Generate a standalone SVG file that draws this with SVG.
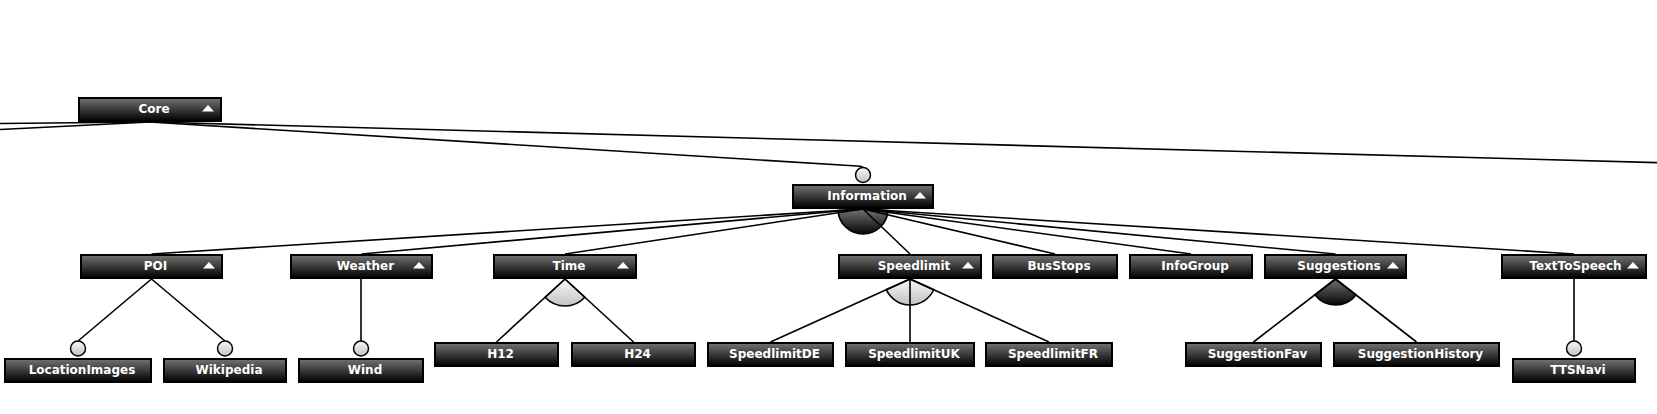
<svg xmlns="http://www.w3.org/2000/svg" width="1657" height="414" viewBox="0 0 1657 414">
<defs>
<linearGradient id="gBox" x1="0" y1="0" x2="0" y2="1">
<stop offset="0" stop-color="#737373"/>
<stop offset="1" stop-color="#000000"/>
</linearGradient>
<linearGradient id="gLight" x1="0" y1="0" x2="0" y2="1">
<stop offset="0" stop-color="#f8f8f8"/>
<stop offset="1" stop-color="#c2c2c2"/>
</linearGradient>
<linearGradient id="gDark" x1="0" y1="0" x2="0" y2="1">
<stop offset="0" stop-color="#737373"/>
<stop offset="1" stop-color="#050505"/>
</linearGradient>
</defs>
<style>
.box{fill:url(#gBox);stroke:#000;stroke-width:2}
.lbl{fill:#fff;font-family:"DejaVu Sans",sans-serif;font-weight:bold;font-size:12px;text-anchor:middle}
.tri{fill:#fff}
.ln{fill:none;stroke:#000;stroke-width:1.6}
.alt{fill:url(#gLight);stroke:#000;stroke-width:1.6}
.or{fill:url(#gDark);stroke:#000;stroke-width:1.6}
.opt{fill:url(#gLight);stroke:#000;stroke-width:1.5}
</style>
<rect width="1657" height="414" fill="#fff"/>
<g id="groups">
<path class="or" d="M863,209 L838.05,210.58 A25,25 0 0 0 887.95,210.58 Z"/>
<path class="alt" d="M565,279 L545.13,297.28 A27,27 0 0 0 584.87,297.28 Z"/>
<path class="alt" d="M910,279 L886.3,289.7 A26,26 0 0 0 933.68,289.73 Z"/>
<path class="or" d="M1335.5,279 L1314.88,294.84 A26,26 0 0 0 1356.02,294.96 Z"/>
</g>
<g id="connectors">
<path class="ln" d="M150,122 L0,123.5"/>
<path class="ln" d="M150,122 L0,129.5"/>
<path class="ln" d="M150,122 L1657,162.6"/>
<path class="ln" d="M150,122 L857,166 Q863,166.3 863,167.5"/>
<path class="ln" d="M863,209 L151.5,254"/>
<path class="ln" d="M863,209 L361.5,254"/>
<path class="ln" d="M863,209 L565,254"/>
<path class="ln" d="M863,209 L910,254"/>
<path class="ln" d="M863,209 L1055,254"/>
<path class="ln" d="M863,209 L1191,254"/>
<path class="ln" d="M863,209 L1335.5,254"/>
<path class="ln" d="M863,209 L1574,254"/>
<path class="ln" d="M151.5,279 L78,341"/>
<path class="ln" d="M151.5,279 L225,341"/>
<path class="ln" d="M361,279 L361,341"/>
<path class="ln" d="M565,279 L496.5,342"/>
<path class="ln" d="M565,279 L633.5,342"/>
<path class="ln" d="M910,279 L770.5,342"/>
<path class="ln" d="M910,279 L910,342"/>
<path class="ln" d="M910,279 L1049,342"/>
<path class="ln" d="M1335.5,279 L1253.5,342"/>
<path class="ln" d="M1335.5,279 L1416.5,342"/>
<path class="ln" d="M1574,279 L1574,341"/>
<circle class="opt" cx="863" cy="175" r="7.5"/>
<circle class="opt" cx="78" cy="348.5" r="7.5"/>
<circle class="opt" cx="225" cy="348.5" r="7.5"/>
<circle class="opt" cx="361" cy="348.5" r="7.5"/>
<circle class="opt" cx="1574" cy="348.5" r="7.5"/>
</g>
<g id="Core"><rect class="box" x="79" y="98" width="142" height="23"/><text class="lbl" x="154" y="113">Core</text><polygon class="tri" points="202,111.5 214,111.5 208,105"/></g>
<g id="Information"><rect class="box" x="793" y="185" width="140" height="23"/><text class="lbl" x="867" y="200">Information</text><polygon class="tri" points="914,198.5 926,198.5 920,192"/></g>
<g id="POI"><rect class="box" x="81" y="255" width="141" height="23"/><text class="lbl" x="155.5" y="270">POI</text><polygon class="tri" points="203,268.5 215,268.5 209,262"/></g>
<g id="Weather"><rect class="box" x="291" y="255" width="141" height="23"/><text class="lbl" x="365.5" y="270">Weather</text><polygon class="tri" points="413,268.5 425,268.5 419,262"/></g>
<g id="Time"><rect class="box" x="494" y="255" width="142" height="23"/><text class="lbl" x="569" y="270">Time</text><polygon class="tri" points="617,268.5 629,268.5 623,262"/></g>
<g id="Speedlimit"><rect class="box" x="839" y="255" width="142" height="23"/><text class="lbl" x="914" y="270">Speedlimit</text><polygon class="tri" points="962,268.5 974,268.5 968,262"/></g>
<g id="BusStops"><rect class="box" x="993" y="255" width="124" height="23"/><text class="lbl" x="1059" y="270">BusStops</text></g>
<g id="InfoGroup"><rect class="box" x="1130" y="255" width="122" height="23"/><text class="lbl" x="1195" y="270">InfoGroup</text></g>
<g id="Suggestions"><rect class="box" x="1265" y="255" width="141" height="23"/><text class="lbl" x="1339" y="270">Suggestions</text><polygon class="tri" points="1387,268.5 1399,268.5 1393,262"/></g>
<g id="TextToSpeech"><rect class="box" x="1502" y="255" width="144" height="23"/><text class="lbl" x="1575.5" y="270">TextToSpeech</text><polygon class="tri" points="1627,268.5 1639,268.5 1633,262"/></g>
<g id="H12"><rect class="box" x="435" y="343" width="123" height="23"/><text class="lbl" x="500.5" y="358">H12</text></g>
<g id="H24"><rect class="box" x="572" y="343" width="123" height="23"/><text class="lbl" x="637.5" y="358">H24</text></g>
<g id="SpeedlimitDE"><rect class="box" x="708" y="343" width="125" height="23"/><text class="lbl" x="774.5" y="358">SpeedlimitDE</text></g>
<g id="SpeedlimitUK"><rect class="box" x="846" y="343" width="128" height="23"/><text class="lbl" x="914" y="358">SpeedlimitUK</text></g>
<g id="SpeedlimitFR"><rect class="box" x="986" y="343" width="126" height="23"/><text class="lbl" x="1053" y="358">SpeedlimitFR</text></g>
<g id="SuggestionFav"><rect class="box" x="1186" y="343" width="135" height="23"/><text class="lbl" x="1257.5" y="358">SuggestionFav</text></g>
<g id="SuggestionHistory"><rect class="box" x="1334" y="343" width="165" height="23"/><text class="lbl" x="1420.5" y="358">SuggestionHistory</text></g>
<g id="LocationImages"><rect class="box" x="5" y="359" width="146" height="23"/><text class="lbl" x="82" y="374">LocationImages</text></g>
<g id="Wikipedia"><rect class="box" x="164" y="359" width="122" height="23"/><text class="lbl" x="229" y="374">Wikipedia</text></g>
<g id="Wind"><rect class="box" x="299" y="359" width="124" height="23"/><text class="lbl" x="365" y="374">Wind</text></g>
<g id="TTSNavi"><rect class="box" x="1513" y="359" width="122" height="23"/><text class="lbl" x="1578" y="374">TTSNavi</text></g>
</svg>
